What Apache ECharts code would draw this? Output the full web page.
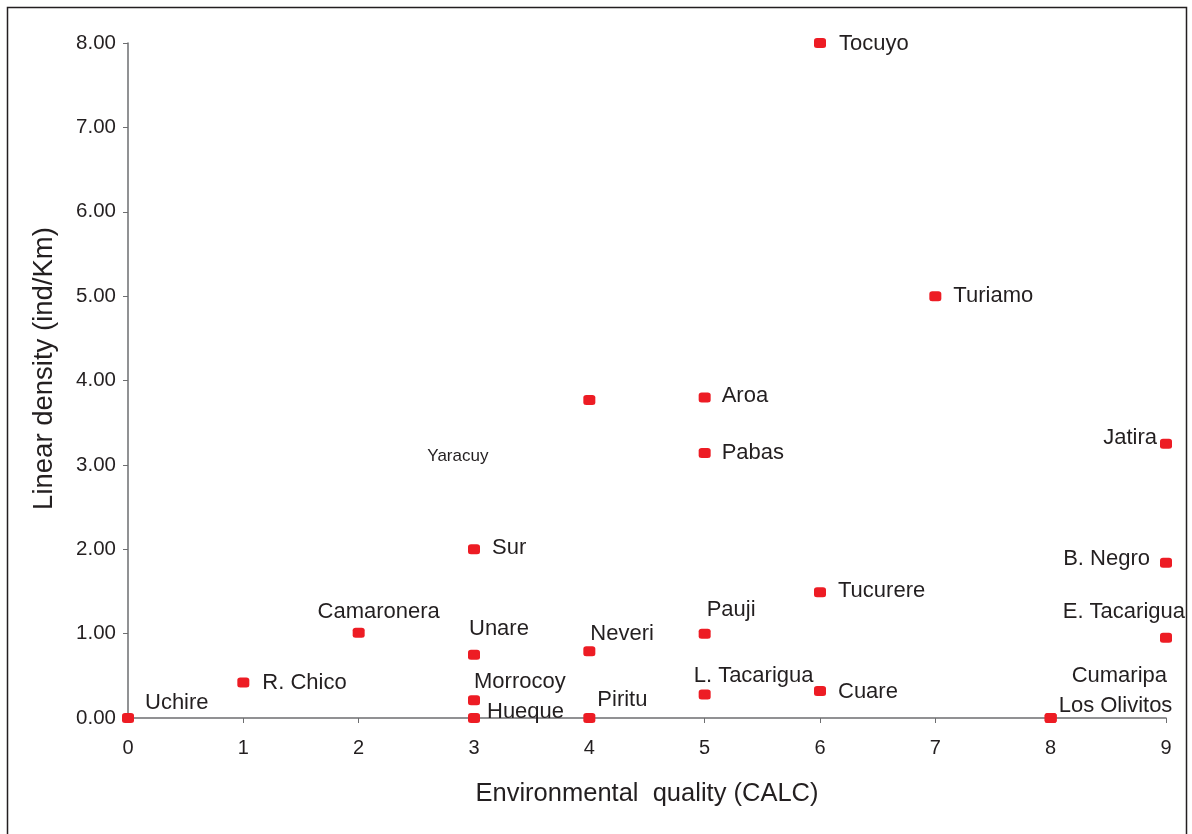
<!DOCTYPE html>
<html>
<head>
<meta charset="utf-8">
<script src="https://cdn.jsdelivr.net/npm/echarts@6/dist/echarts.min.js"></script>
<style>
  html, body {margin: 0; padding: 0; background: #fff;}
  #chart {width: 1192px; height: 834px;}
</style>
</head>
<body>
<div id="chart"></div>
<script>
// sites, environmental quality (CALC) and linear density (ind/Km)
const siteNames = [
  "Uchire", "R. Chico", "Camaronera", "Unare", "Sur", "Morrocoy", "Hueque",
  "Yaracuy", "Neveri", "Piritu", "Aroa", "Pabas", "Pauji", "L. Tacarigua",
  "Tocuyo", "Tucurere", "Cuare", "Turiamo", "Jatira", "B. Negro",
  "E. Tacarigua", "Cumaripa", "Los Olivitos",
];
const qualityValues = [0, 1, 2, 3, 3, 3, 3, 4, 4, 4, 5, 5, 5, 5, 6, 6, 6, 7, 9, 9, 9, 8, 8];
const densityValues = [
  0, 0.42, 1.01, 0.75, 2.0, 0.21, 0,
  3.77, 0.79, 0, 3.80, 3.14, 1.0, 0.28,
  8.0, 1.49, 0.32, 5.0, 3.25, 1.84,
  0.95, 0, 0,
];
const xTicks = [0, 1, 2, 3, 4, 5, 6, 7, 8, 9];
const yTicks = [0, 1, 2, 3, 4, 5, 6, 7, 8];

// label anchor and offset from the point, in pixels
const labelPlacement = {
  "Uchire": ["left", 17, -15],
  "R. Chico": ["left", 19, 0],
  "Camaronera": ["center", 20, -21],
  "Unare": ["left", -5, -26],
  "Sur": ["left", 18, -1],
  "Morrocoy": ["left", 0, -18],
  "Hueque": ["left", 13, -6],
  "Yaracuy": ["left", -162, 56],
  "Neveri": ["left", 1, -17],
  "Piritu": ["left", 8, -18],
  "Aroa": ["left", 17, -1],
  "Pabas": ["left", 17, 0],
  "Pauji": ["left", 2, -24],
  "L. Tacarigua": ["left", -11, -18],
  "Tocuyo": ["left", 19, 1],
  "Tucurere": ["left", 18, -1],
  "Cuare": ["left", 18, 1],
  "Turiamo": ["left", 18, 0],
  "Jatira": ["right", -9, -6],
  "B. Negro": ["right", -16, -4],
  "E. Tacarigua": ["right", 19, -26],
  "Cumaripa": ["left", 21, -42],
  "Los Olivitos": ["left", 8, -12],
};

const textColor = "#231f20";
const axisColor = "#6d6e70";
const font = "'Liberation Sans', Arial, sans-serif";

const points = siteNames.map((name, i) => {
  const p = labelPlacement[name];
  return {
    name: name,
    value: [qualityValues[i], densityValues[i]],
    label: {
      show: true,
      position: "inside",
      align: p[0],
      verticalAlign: "middle",
      offset: [p[1], p[2]],
      fontSize: name === "Yaracuy" ? 17 : 22,
      color: textColor,
      textBorderWidth: 0,
      fontFamily: font,
      formatter: "{b}",
    },
  };
});

const myChart = echarts.init(document.getElementById("chart"));
const option = {
  backgroundColor: "#fff",
  animation: false,
  grid: {left: 128, right: 26, top: 43, bottom: 116},
  graphic: [{
    type: "rect",
    shape: {x: 7.5, y: 7.5, width: 1179, height: 860},
    style: {fill: null, stroke: "#231f20", lineWidth: 1.5},
    silent: true,
  }],
  xAxis: {
    type: "value",
    min: xTicks[0],
    max: xTicks[xTicks.length - 1],
    interval: 1,
    name: "Environmental  quality (CALC)",
    nameLocation: "middle",
    nameGap: 63,
    nameTextStyle: {fontSize: 25.5, color: textColor, fontFamily: font},
    axisLine: {show: true, lineStyle: {color: axisColor, width: 1.5}},
    axisTick: {show: true, length: 5, lineStyle: {color: axisColor}},
    axisLabel: {fontSize: 20, color: textColor, fontFamily: font, margin: 20},
    splitLine: {show: false},
  },
  yAxis: {
    type: "value",
    min: yTicks[0],
    max: yTicks[yTicks.length - 1],
    interval: 1,
    name: "Linear density (ind/Km)",
    nameLocation: "middle",
    nameGap: 70,
    nameTextStyle: {fontSize: 27.5, color: textColor, fontFamily: font, padding: [0, 0, 0, 24]},
    axisLine: {show: true, lineStyle: {color: axisColor, width: 1.5}},
    axisTick: {show: true, length: 5, lineStyle: {color: axisColor}},
    axisLabel: {
      fontSize: 20.5, color: textColor, fontFamily: font, margin: 12,
      formatter: (v) => v.toFixed(2),
    },
    splitLine: {show: false},
  },
  series: [{
    type: "scatter",
    symbol: "roundRect",
    symbolSize: [12, 10],
    clip: false,
    itemStyle: {color: "#ed1c24", opacity: 1},
    data: points,
  }],
};
myChart.setOption(option);
</script>
</body>
</html>
